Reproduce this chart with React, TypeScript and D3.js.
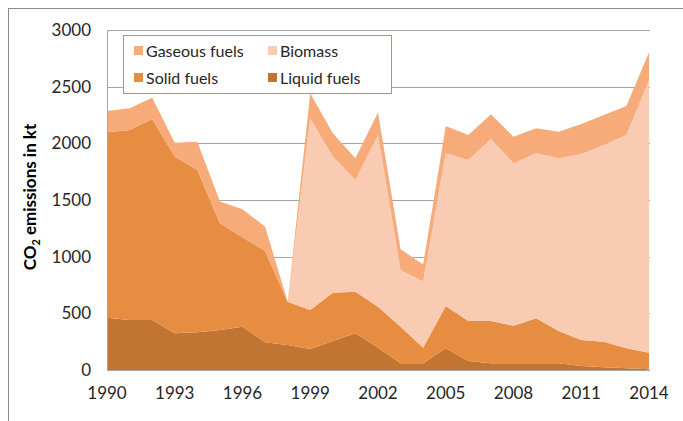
import { useEffect, useRef } from 'react'
import * as d3 from 'd3'

// ─── Data (kt CO2) ──────────────────────────────────────────────────────────

const years = d3.range(1990, 2015)
const liquid = [461, 441, 441, 324, 332, 353, 382, 244, 221, 185, 256, 324, 197, 59, 59, 191, 79, 59, 59, 59, 59, 35, 24, 15, 6]
const solid = [1637, 1677, 1774, 1559, 1433, 941, 789, 806, 382, 345, 426, 367, 362, 323, 138, 374, 353, 373, 332, 397, 285, 230, 226, 176, 147]
const biomass = [0, 0, 0, 0, 0, 0, 0, 0, 0, 1691, 1201, 986, 1515, 501, 583, 1347, 1421, 1607, 1433, 1456, 1524, 1641, 1736, 1883, 2406]
const gaseous = [188, 192, 188, 123, 250, 192, 247, 215, 0, 221, 206, 191, 197, 182, 150, 242, 221, 217, 235, 221, 235, 265, 264, 256, 245]

const xTicks = [1990, 1993, 1996, 1999, 2002, 2005, 2008, 2011, 2014]
const yTicks = [0, 500, 1000, 1500, 2000, 2500, 3000]

const seriesKeys = ['liquid', 'solid', 'biomass', 'gaseous'] as const
const seriesColor: Record<string, string> = {
  liquid: '#c27533',
  solid: '#e78d42',
  biomass: '#f8cbb2',
  gaseous: '#f6ab79',
}
const legendRows = [
  [{ key: 'gaseous', label: 'Gaseous fuels' }, { key: 'biomass', label: 'Biomass' }],
  [{ key: 'solid', label: 'Solid fuels' }, { key: 'liquid', label: 'Liquid fuels' }],
]

const W = 683
const H = 421
const FONT = 'Lato, "Open Sans", sans-serif'

export default function App() {
  const ref = useRef<SVGSVGElement>(null)

  useEffect(() => {
    if (!ref.current) return
    const svg = d3.select(ref.current)
    svg.selectAll('*').remove()

    const plot = { left: 107, right: 649, top: 30, bottom: 370 }

    const x = d3.scaleLinear().domain([1990, 2014]).range([plot.left, plot.right])
    const y = d3.scaleLinear().domain([0, 3000]).range([plot.bottom, plot.top])

    // outer frame
    svg.append('rect')
      .attr('x', 8.5).attr('y', 8.5)
      .attr('width', W + 20).attr('height', H + 20)
      .attr('fill', 'white')
      .attr('stroke', '#8c8c8c')

    // grid
    svg.append('g')
      .selectAll('line')
      .data(yTicks.slice(1))
      .join('line')
      .attr('x1', plot.left).attr('x2', plot.right + 1)
      .attr('y1', (d) => Math.round(y(d)) + 0.5)
      .attr('y2', (d) => Math.round(y(d)) + 0.5)
      .attr('stroke', '#a6a6a6')

    // stacked areas
    const rows = years.map((yr, i) => ({
      year: yr,
      liquid: liquid[i],
      solid: solid[i],
      biomass: biomass[i],
      gaseous: gaseous[i],
    }))
    const stacked = d3.stack<any>().keys(seriesKeys as unknown as string[])(rows)
    const area = d3.area<any>()
      .x((d) => x(d.data.year))
      .y0((d) => y(d[0]))
      .y1((d) => y(d[1]))

    svg.append('g')
      .selectAll('path')
      .data(stacked)
      .join('path')
      .attr('d', area)
      .attr('fill', (s) => seriesColor[s.key])

    // axes lines
    svg.append('line')
      .attr('x1', plot.left + 0.5).attr('x2', plot.left + 0.5)
      .attr('y1', plot.top).attr('y2', plot.bottom)
      .attr('stroke', '#a6a6a6')
    svg.append('line')
      .attr('x1', plot.left).attr('x2', plot.right + 1)
      .attr('y1', plot.bottom + 0.5).attr('y2', plot.bottom + 0.5)
      .attr('stroke', '#a6a6a6')

    // y tick labels
    svg.append('g')
      .selectAll('text')
      .data(yTicks)
      .join('text')
      .attr('x', 91)
      .attr('y', (d) => y(d))
      .attr('dy', '0.35em')
      .attr('text-anchor', 'end')
      .attr('font-size', 17)
      .attr('font-family', FONT)
      .attr('fill', '#262626')
      .text((d) => String(d))

    // x tick labels
    svg.append('g')
      .selectAll('text')
      .data(xTicks)
      .join('text')
      .attr('x', (d) => x(d))
      .attr('y', 399)
      .attr('text-anchor', 'middle')
      .attr('font-size', 17)
      .attr('font-family', FONT)
      .attr('fill', '#262626')
      .text((d) => String(d))

    // y axis title
    const title = svg.append('text')
      .attr('transform', 'translate(36,197) rotate(-90)')
      .attr('text-anchor', 'middle')
      .attr('font-size', 17)
      .attr('font-weight', 'bold')
      .attr('font-family', FONT)
      .attr('fill', '#000')
    title.append('tspan').text('CO')
    title.append('tspan').attr('font-size', 11).attr('dy', 4).text('2')
    title.append('tspan').attr('dy', -4).text(' emissions in kt')

    // legend
    const lg = svg.append('g')
    lg.append('rect')
      .attr('x', 123.5).attr('y', 35.5)
      .attr('width', 268).attr('height', 58)
      .attr('fill', 'white')
      .attr('stroke', '#c98b5c')
    legendRows.forEach((row, ri) => {
      row.forEach((item, ci) => {
        const lx = ci === 0 ? 134 : 268
        const ly = ri === 0 ? 51 : 78
        lg.append('rect')
          .attr('x', lx).attr('y', ly - 5)
          .attr('width', 9).attr('height', 9)
          .attr('fill', seriesColor[item.key])
        lg.append('text')
          .attr('x', lx + 12)
          .attr('y', ly)
          .attr('dy', '0.35em')
          .attr('font-size', 16)
          .attr('font-family', FONT)
          .attr('fill', '#262626')
          .text(item.label)
      })
    })
  }, [])

  return (
    <>
      <style>{'body{margin:0}'}</style>
      <svg ref={ref} width={W} height={H} style={{ display: 'block' }} />
    </>
  )
}
